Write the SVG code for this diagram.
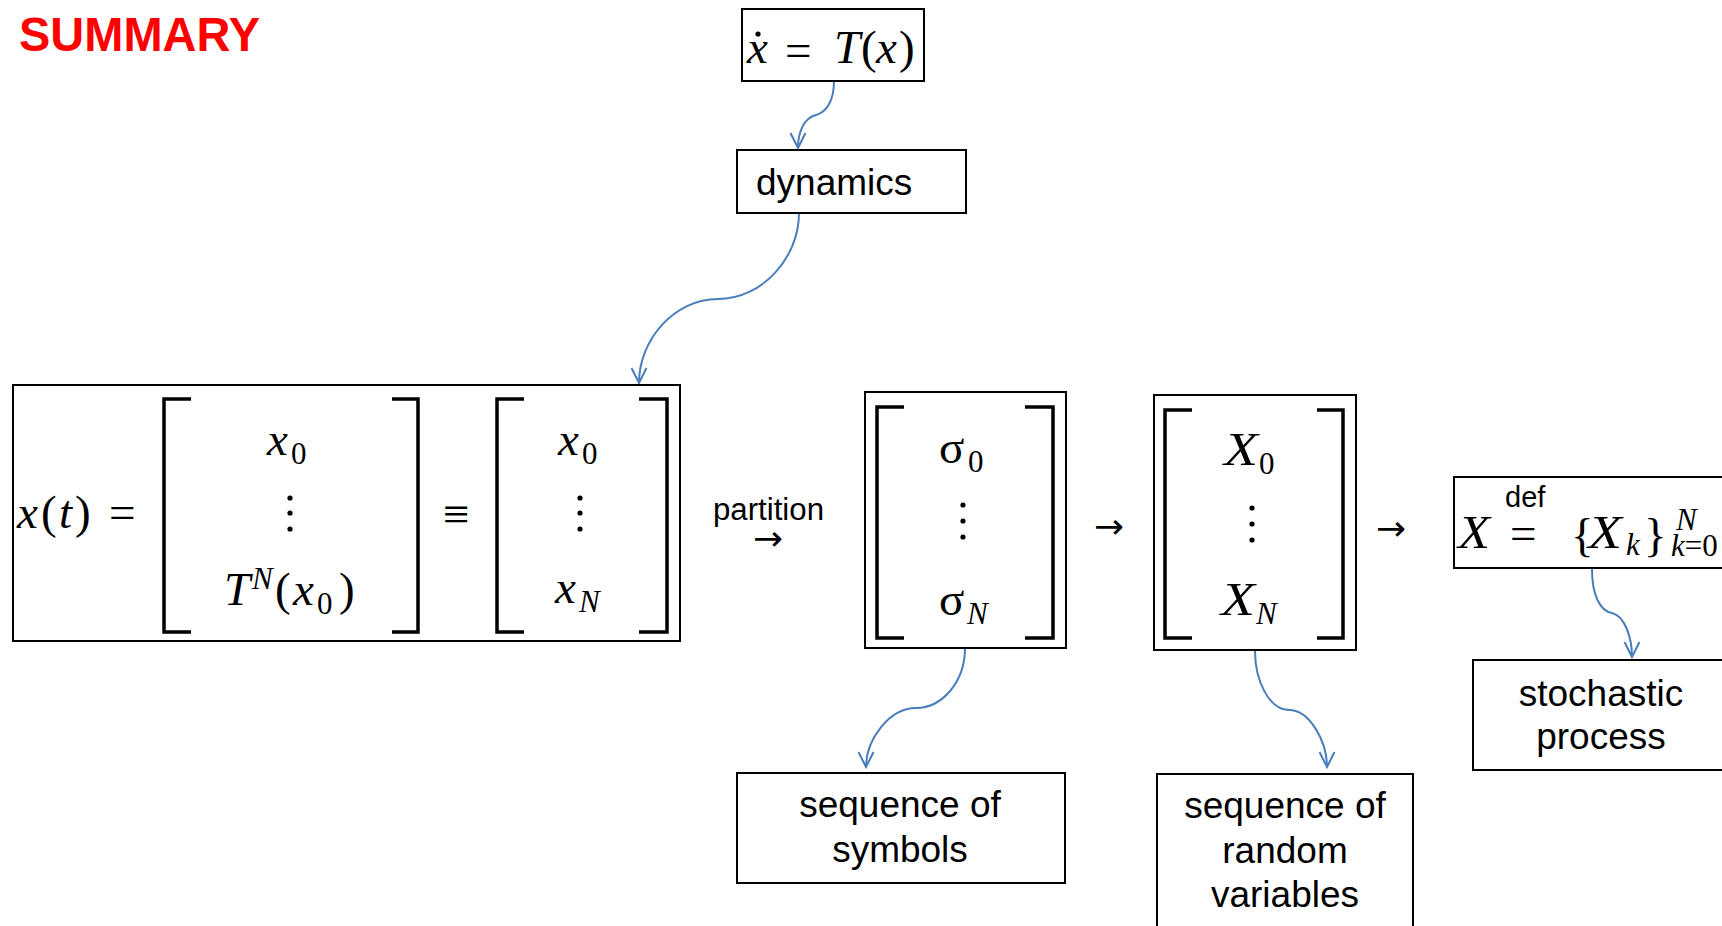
<svg xmlns="http://www.w3.org/2000/svg" width="1722" height="926" viewBox="0 0 1722 926">
<defs>
<style>
.box{fill:#fff;stroke:#000;stroke-width:2}
.br{fill:none;stroke:#000;stroke-width:3.5}
.m{font-family:"Liberation Serif","Times New Roman",serif;font-style:italic;font-size:47px;fill:#000}
.mu{font-family:"Liberation Serif","Times New Roman",serif;font-size:47px;fill:#000}
.s{font-family:"Liberation Serif","Times New Roman",serif;font-style:italic;font-size:31px}
.su{font-family:"Liberation Serif","Times New Roman",serif;font-size:31px;font-style:normal}
.arr{font-family:"DejaVu Sans",sans-serif;font-size:34px;fill:#000}
.lbl{font-family:"Liberation Sans",Arial,sans-serif;font-size:37px;fill:#000}
.c{text-anchor:middle}
.con{fill:none;stroke:#4A7EBB;stroke-width:2;marker-end:url(#ah)}
.dot{fill:#000}
</style>
<marker id="ah" markerUnits="userSpaceOnUse" viewBox="-17 -9 19 18" refX="0" refY="0" markerWidth="19" markerHeight="18" orient="auto">
<path d="M-15,-7.5 L0,0 L-15,7.5" fill="none" stroke="#4A7EBB" stroke-width="2"/>
</marker>
</defs>
<rect width="1722" height="926" fill="#fff"/>

<g id="title">
<text x="19" y="51" font-family="Liberation Sans,Arial,sans-serif" font-weight="bold" font-size="48" fill="#FF0000" textLength="241" lengthAdjust="spacingAndGlyphs">SUMMARY</text>
</g>

<g id="connectors">
<path class="con" d="M834,81 C834,100 827,112 816,115 C804,118 798,132 798,148"/>
<path class="con" d="M799,213 C799,258 762,299 718,299 C674,299 639,340 639,383"/>
<path class="con" d="M965,648 C965,682 942,708 916,708 C889,708 866,740 866,767"/>
<path class="con" d="M1255,651 C1255,682 1270,710 1289,710 C1310,710 1327,742 1327,767"/>
<path class="con" d="M1592,569 C1592,595 1600,611 1612,613 C1625,616 1632,638 1632,657"/>
</g>

<g id="ode">
<rect class="box" x="742" y="9" width="182" height="72"/>
<text class="m" x="747" y="63">x</text>
<circle class="dot" cx="758" cy="34" r="2.6"/>
<text class="mu" x="785" y="66">=</text>
<text class="m" x="834" y="63">T</text>
<text class="mu" x="861" y="63">(</text>
<text class="m" x="876" y="63">x</text>
<text class="mu" x="899" y="63">)</text>
</g>

<g id="dynamics">
<rect class="box" x="737" y="150" width="229" height="63"/>
<text class="lbl" x="756" y="195">dynamics</text>
</g>

<g id="trajectory">
<rect class="box" x="13" y="385" width="667" height="256"/>
<text class="m" x="17" y="528">x</text>
<text class="mu" x="41" y="528">(</text>
<text class="m" x="59" y="528">t</text>
<text class="mu" x="75" y="528">)</text>
<text class="mu" x="109" y="528">=</text>
<path class="br" d="M191,399 H164 V632 H191"/>
<path class="br" d="M392,399 H418 V632 H392"/>
<text class="m" x="267" y="455">x</text>
<text class="su" x="291" y="464">0</text>
<circle class="dot" cx="290" cy="498" r="2.6"/>
<circle class="dot" cx="290" cy="513" r="2.6"/>
<circle class="dot" cx="290" cy="529" r="2.6"/>
<text class="m" x="224" y="605">T</text>
<text class="s" x="252" y="589">N</text>
<text class="mu" x="275" y="605">(</text>
<text class="m" x="293" y="605">x</text>
<text class="su" x="317" y="614">0</text>
<text class="mu" x="339" y="605">)</text>
<text class="mu" x="443" y="530">≡</text>
<path class="br" d="M524,399 H497 V632 H524"/>
<path class="br" d="M639,399 H667 V632 H639"/>
<text class="m" x="558" y="455">x</text>
<text class="su" x="582" y="464">0</text>
<circle class="dot" cx="580" cy="498" r="2.6"/>
<circle class="dot" cx="580" cy="513" r="2.6"/>
<circle class="dot" cx="580" cy="529" r="2.6"/>
<text class="m" x="555" y="603">x</text>
<text class="s" x="579" y="612">N</text>
</g>

<g id="partition-label">
<text x="713" y="520" font-family="Liberation Sans,Arial,sans-serif" font-size="31" textLength="111" lengthAdjust="spacingAndGlyphs">partition</text>
<text class="arr" x="753" y="550" textLength="30" lengthAdjust="spacingAndGlyphs">→</text>
</g>

<g id="symbols-vector">
<rect class="box" x="865" y="392" width="201" height="256"/>
<path class="br" d="M904,407 H877 V638 H904"/>
<path class="br" d="M1025,407 H1053 V638 H1025"/>
<text class="mu" x="939" y="463">σ</text>
<text class="su" x="968" y="472">0</text>
<circle class="dot" cx="963" cy="505" r="2.6"/>
<circle class="dot" cx="963" cy="521" r="2.6"/>
<circle class="dot" cx="963" cy="537" r="2.6"/>
<text class="mu" x="939" y="615">σ</text>
<text class="s" x="967" y="624">N</text>
</g>

<g id="arrow1">
<text class="arr" x="1094" y="538" textLength="30" lengthAdjust="spacingAndGlyphs">→</text>
</g>

<g id="rv-vector">
<rect class="box" x="1154" y="395" width="202" height="255"/>
<path class="br" d="M1192,410 H1165 V638 H1192"/>
<path class="br" d="M1317,410 H1343 V638 H1317"/>
<text class="m" x="1224" y="465" textLength="34" lengthAdjust="spacingAndGlyphs">X</text>
<text class="su" x="1259" y="474">0</text>
<circle class="dot" cx="1252" cy="508" r="2.6"/>
<circle class="dot" cx="1252" cy="524" r="2.6"/>
<circle class="dot" cx="1252" cy="540" r="2.6"/>
<text class="m" x="1221" y="615" textLength="34" lengthAdjust="spacingAndGlyphs">X</text>
<text class="s" x="1256" y="624">N</text>
</g>

<g id="arrow2">
<text class="arr" x="1376" y="540" textLength="30" lengthAdjust="spacingAndGlyphs">→</text>
</g>

<g id="definition">
<rect class="box" x="1454" y="477" width="280" height="91"/>
<text class="m" x="1458" y="548" textLength="32" lengthAdjust="spacingAndGlyphs">X</text>
<text x="1505" y="507" font-family="Liberation Sans,Arial,sans-serif" font-size="29">def</text>
<text class="mu" x="1510" y="549">=</text>
<text class="mu" x="1571" y="551">{</text>
<text class="m" x="1588" y="548" textLength="34" lengthAdjust="spacingAndGlyphs">X</text>
<text class="s" x="1626" y="555">k</text>
<text class="mu" x="1644" y="551">}</text>
<text class="s" x="1676" y="530">N</text>
<text class="s" x="1671" y="556">k<tspan class="su">=0</tspan></text>
</g>

<g id="stochastic">
<rect class="box" x="1473" y="660" width="261" height="110"/>
<text class="lbl c" x="1601" y="706">stochastic</text>
<text class="lbl c" x="1601" y="749">process</text>
</g>

<g id="seq-symbols">
<rect class="box" x="737" y="773" width="328" height="110"/>
<text class="lbl c" x="900" y="817">sequence of</text>
<text class="lbl c" x="900" y="862">symbols</text>
</g>

<g id="seq-rv">
<rect class="box" x="1157" y="774" width="256" height="170"/>
<text class="lbl c" x="1285" y="818">sequence of</text>
<text class="lbl c" x="1285" y="863">random</text>
<text class="lbl c" x="1285" y="907">variables</text>
</g>
</svg>
